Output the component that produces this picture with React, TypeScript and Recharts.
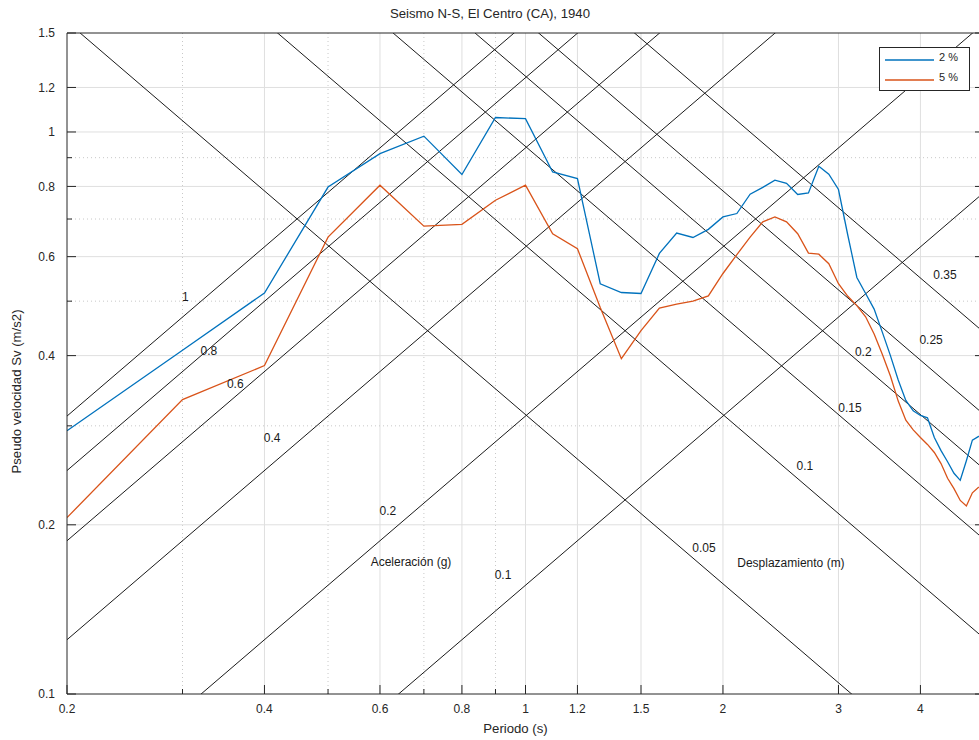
import React from "react";
import {
  ComposedChart,
  Line,
  XAxis,
  YAxis,
  ReferenceLine,
  ReferenceDot,
  Legend,
  Label,
} from "recharts";

// Periodo (s)
const periods = [
  0.2, 0.3, 0.4, 0.5, 0.6, 0.7, 0.8, 0.9,
  1.0, 1.1, 1.2, 1.3, 1.4, 1.5, 1.6, 1.7, 1.8, 1.9,
  2.0, 2.1, 2.2, 2.3, 2.4, 2.5, 2.6, 2.7, 2.8, 2.9,
  3.0, 3.1, 3.2, 3.3, 3.4, 3.5, 3.6, 3.7, 3.8, 3.9,
  4.0, 4.1, 4.2, 4.3, 4.4, 4.5, 4.6, 4.7, 4.8, 4.9,
  5.0,
];

// Sv for 2 % damping
const sv2 = [
  0.294, 0.409, 0.517, 0.798, 0.915, 0.983, 0.84, 1.061,
  1.056, 0.849, 0.826, 0.537, 0.518, 0.516, 0.608, 0.661, 0.649, 0.671,
  0.706, 0.716, 0.775, 0.797, 0.821, 0.81, 0.774, 0.779, 0.869, 0.841,
  0.79, 0.655, 0.551, 0.516, 0.484, 0.44, 0.4, 0.362, 0.333, 0.319,
  0.313, 0.31, 0.286, 0.271, 0.259, 0.247, 0.24, 0.26, 0.283, 0.287,
  0.29,
];

// Sv for 5 % damping
const sv5 = [
  0.206, 0.334, 0.384, 0.65, 0.804, 0.68, 0.685, 0.756,
  0.804, 0.659, 0.62, 0.487, 0.395, 0.443, 0.486, 0.494, 0.5, 0.511,
  0.56, 0.605, 0.65, 0.692, 0.706, 0.692, 0.659, 0.609, 0.606, 0.583,
  0.537, 0.51, 0.491, 0.469, 0.437, 0.402, 0.368, 0.332, 0.307, 0.295,
  0.286, 0.278, 0.269, 0.257, 0.242, 0.232, 0.221, 0.216, 0.228, 0.233,
  0.236,
];

// constant acceleration (g) and displacement (m) lines
const accelerations = [1, 0.8, 0.6, 0.4, 0.2, 0.1];
const displacements = [0.05, 0.1, 0.15, 0.2, 0.25, 0.35];

// where the line values are written (T, Sv)
const accLabelT = [0.303, 0.329, 0.361, 0.411, 0.617, 0.924];
const accLabelSv = [0.508, 0.407, 0.356, 0.285, 0.212, 0.163];
const dispLabelT = [1.871, 2.667, 3.123, 3.273, 4.152, 4.359];
const dispLabelSv = [0.182, 0.254, 0.323, 0.406, 0.426, 0.556];

const xMajor = [0.2, 0.4, 0.6, 0.8, 1, 1.2, 1.5, 2, 3, 4, 5];
const yMajor = [0.1, 0.2, 0.4, 0.6, 0.8, 1, 1.2, 1.5];
const minorTicks = [0.3, 0.5, 0.7, 0.9];

const G = 9.81;
const TWO_PI = 2 * Math.PI;
const T_MIN = 0.2;
const T_MAX = 5;

const rows = periods.map((T, i) => ({ T, s2: sv2[i], s5: sv5[i] }));

const FONT = "'Liberation Sans', Arial, Helvetica, sans-serif";
const AXIS = "#262626";
const GRID = "#dfdfdf";
const MINOR_GRID = "#c8c8c8";
const INK = "#1a1a1a";

const isMinor = (v: number) => minorTicks.includes(v);

const BottomTick = (p: any) => {
  const v = p.payload.value;
  const minor = isMinor(v);
  return (
    <g>
      <line x1={p.x} x2={p.x} y1={p.y} y2={p.y - (minor ? 5 : 9)} stroke={AXIS} />
      {!minor && (
        <text x={p.x} y={p.y + 19} textAnchor="middle" fontSize={12} fill={AXIS} fontFamily={FONT}>
          {String(v)}
        </text>
      )}
    </g>
  );
};

const TopTick = (p: any) => {
  const minor = isMinor(p.payload.value);
  return <line x1={p.x} x2={p.x} y1={p.y} y2={p.y + (minor ? 5 : 9)} stroke={AXIS} />;
};

const LeftTick = (p: any) => {
  const v = p.payload.value;
  const minor = isMinor(v);
  return (
    <g>
      <line x1={p.x} x2={p.x + (minor ? 5 : 9)} y1={p.y} y2={p.y} stroke={AXIS} />
      {!minor && (
        <text x={p.x - 12} y={p.y + 4.3} textAnchor="end" fontSize={12} fill={AXIS} fontFamily={FONT}>
          {String(v)}
        </text>
      )}
    </g>
  );
};

const RightTick = (p: any) => {
  const minor = isMinor(p.payload.value);
  return <line x1={p.x} x2={p.x - (minor ? 5 : 9)} y1={p.y} y2={p.y} stroke={AXIS} />;
};

const LegendBox = ({ payload }: any) => (
  <div
    style={{
      width: 91,
      height: 44,
      boxSizing: "border-box",
      border: `1px solid ${AXIS}`,
      background: "#fff",
      paddingTop: 2,
      fontFamily: FONT,
      fontSize: 11,
      color: AXIS,
    }}
  >
    {(payload || []).map((e: any) => (
      <div key={e.value} style={{ display: "flex", alignItems: "center", height: 20 }}>
        <svg width={59} height={4} style={{ display: "block" }}>
          <line x1={5} x2={54} y1={2} y2={2} stroke={e.color} strokeWidth={1.3} />
        </svg>
        <span style={{ lineHeight: "20px", marginTop: -6 }}>{e.value}</span>
      </div>
    ))}
  </div>
);

const textShape = (text: string) => (p: any) => (
  <text
    x={p.cx}
    y={p.cy}
    textAnchor="middle"
    dominantBaseline="central"
    fontSize={12}
    fill={INK}
    fontFamily={FONT}
  >
    {text}
  </text>
);

export default function App() {
  return (
    <div
      style={{
        position: "absolute",
        left: 0,
        top: 0,
        width: 979,
        height: 740,
        overflow: "hidden",
        background: "#fff",
      }}
    >
      <div
        style={{
          position: "absolute",
          left: 0,
          top: 6,
          width: 980,
          textAlign: "center",
          fontFamily: FONT,
          fontSize: 13.2,
          lineHeight: "16px",
          color: AXIS,
          zIndex: 2,
        }}
      >
        Seismo N-S, El Centro (CA), 1940
      </div>
      <ComposedChart
        width={1000}
        height={740}
        data={rows}
        margin={{ top: 32, right: 15, bottom: 45, left: 66 }}
      >
        <XAxis
          dataKey="T"
          type="number"
          scale="log"
          domain={[T_MIN, T_MAX]}
          allowDataOverflow
          ticks={[...xMajor, ...minorTicks]}
          interval={0}
          height={1}
          tickSize={0}
          tickMargin={0}
          tickLine={false}
          axisLine={{ stroke: AXIS }}
          tick={<BottomTick />}
        >
          <Label
            value="Periodo (s)"
            position="bottom"
            offset={28.5}
            dx={-10}
            fontSize={13.2}
            fill={AXIS}
            fontFamily={FONT}
          />
        </XAxis>
        <XAxis
          xAxisId="top"
          orientation="top"
          type="number"
          scale="log"
          domain={[T_MIN, T_MAX]}
          allowDataOverflow
          ticks={[...xMajor, ...minorTicks]}
          interval={0}
          height={1}
          tickSize={0}
          tickMargin={0}
          tickLine={false}
          axisLine={{ stroke: AXIS }}
          tick={<TopTick />}
        />
        <YAxis
          type="number"
          scale="log"
          domain={[0.1, 1.5]}
          allowDataOverflow
          ticks={[...yMajor, ...minorTicks]}
          interval={0}
          width={1}
          tickSize={0}
          tickMargin={0}
          tickLine={false}
          axisLine={{ stroke: AXIS }}
          tick={<LeftTick />}
        >
          <Label
            content={(props: any) => {
              const vb = props.viewBox || { x: 66, y: 33, width: 1, height: 661 };
              const cx = vb.x + vb.width - 51;
              const cy = vb.y + vb.height / 2 + 28;
              return (
                <text
                  transform={`translate(${cx},${cy}) rotate(-90)`}
                  textAnchor="middle"
                  dominantBaseline="central"
                  fontSize={13.2}
                  fill={AXIS}
                  fontFamily={FONT}
                >
                  Pseudo velocidad Sv (m/s2)
                </text>
              );
            }}
          />
        </YAxis>
        <YAxis
          yAxisId="right"
          orientation="right"
          type="number"
          scale="log"
          domain={[0.1, 1.5]}
          allowDataOverflow
          ticks={[...yMajor, ...minorTicks]}
          interval={0}
          width={1}
          tickSize={0}
          tickMargin={0}
          tickLine={false}
          axisLine={{ stroke: AXIS }}
          tick={<RightTick />}
        />

        {/* grid */}
        {xMajor.slice(1, -1).map((v) => (
          <ReferenceLine key={`gx${v}`} x={v} stroke={GRID} strokeWidth={1} />
        ))}
        {minorTicks.map((v) => (
          <ReferenceLine key={`mx${v}`} x={v} stroke={MINOR_GRID} strokeDasharray="1 3" />
        ))}
        {yMajor.slice(1, -1).map((v) => (
          <ReferenceLine key={`gy${v}`} y={v} stroke={GRID} strokeWidth={1} />
        ))}
        {minorTicks.map((v) => (
          <ReferenceLine key={`my${v}`} y={v} stroke={MINOR_GRID} strokeDasharray="1 3" />
        ))}

        {/* constant acceleration lines: Sv = A g T / 2pi */}
        {accelerations.map((a) => (
          <ReferenceLine
            key={`a${a}`}
            ifOverflow="hidden"
            stroke={INK}
            strokeWidth={1}
            segment={[
              { x: T_MIN, y: (a * G * T_MIN) / TWO_PI },
              { x: T_MAX, y: (a * G * T_MAX) / TWO_PI },
            ]}
          />
        ))}
        {/* constant displacement lines: Sv = 2pi D / T */}
        {displacements.map((d) => (
          <ReferenceLine
            key={`d${d}`}
            ifOverflow="hidden"
            stroke={INK}
            strokeWidth={1}
            segment={[
              { x: T_MIN, y: (TWO_PI * d) / T_MIN },
              { x: T_MAX, y: (TWO_PI * d) / T_MAX },
            ]}
          />
        ))}

        <Line
          type="linear"
          dataKey="s2"
          name="2 %"
          stroke="#0072BD"
          strokeWidth={1.3}
          dot={false}
          activeDot={false}
          isAnimationActive={false}
        />
        <Line
          type="linear"
          dataKey="s5"
          name="5 %"
          stroke="#D95319"
          strokeWidth={1.3}
          dot={false}
          activeDot={false}
          isAnimationActive={false}
        />

        {accelerations.map((a, i) => (
          <ReferenceDot
            key={`la${a}`}
            x={accLabelT[i]}
            y={accLabelSv[i]}
            r={1}
            shape={textShape(String(a))}
          />
        ))}
        {displacements.map((d, i) => (
          <ReferenceDot
            key={`ld${d}`}
            x={dispLabelT[i]}
            y={dispLabelSv[i]}
            r={1}
            shape={textShape(String(d))}
          />
        ))}
        <ReferenceDot x={0.669} y={0.172} r={1} shape={textShape("Aceleración (g)")} />
        <ReferenceDot x={2.539} y={0.171} r={1} shape={textShape("Desplazamiento (m)")} />

        <Legend
          layout="horizontal"
          align="center"
          verticalAlign="middle"
          content={<LegendBox />}
          wrapperStyle={{ left: 879, top: 47, width: 91, height: 44 }}
        />
      </ComposedChart>
    </div>
  );
}
